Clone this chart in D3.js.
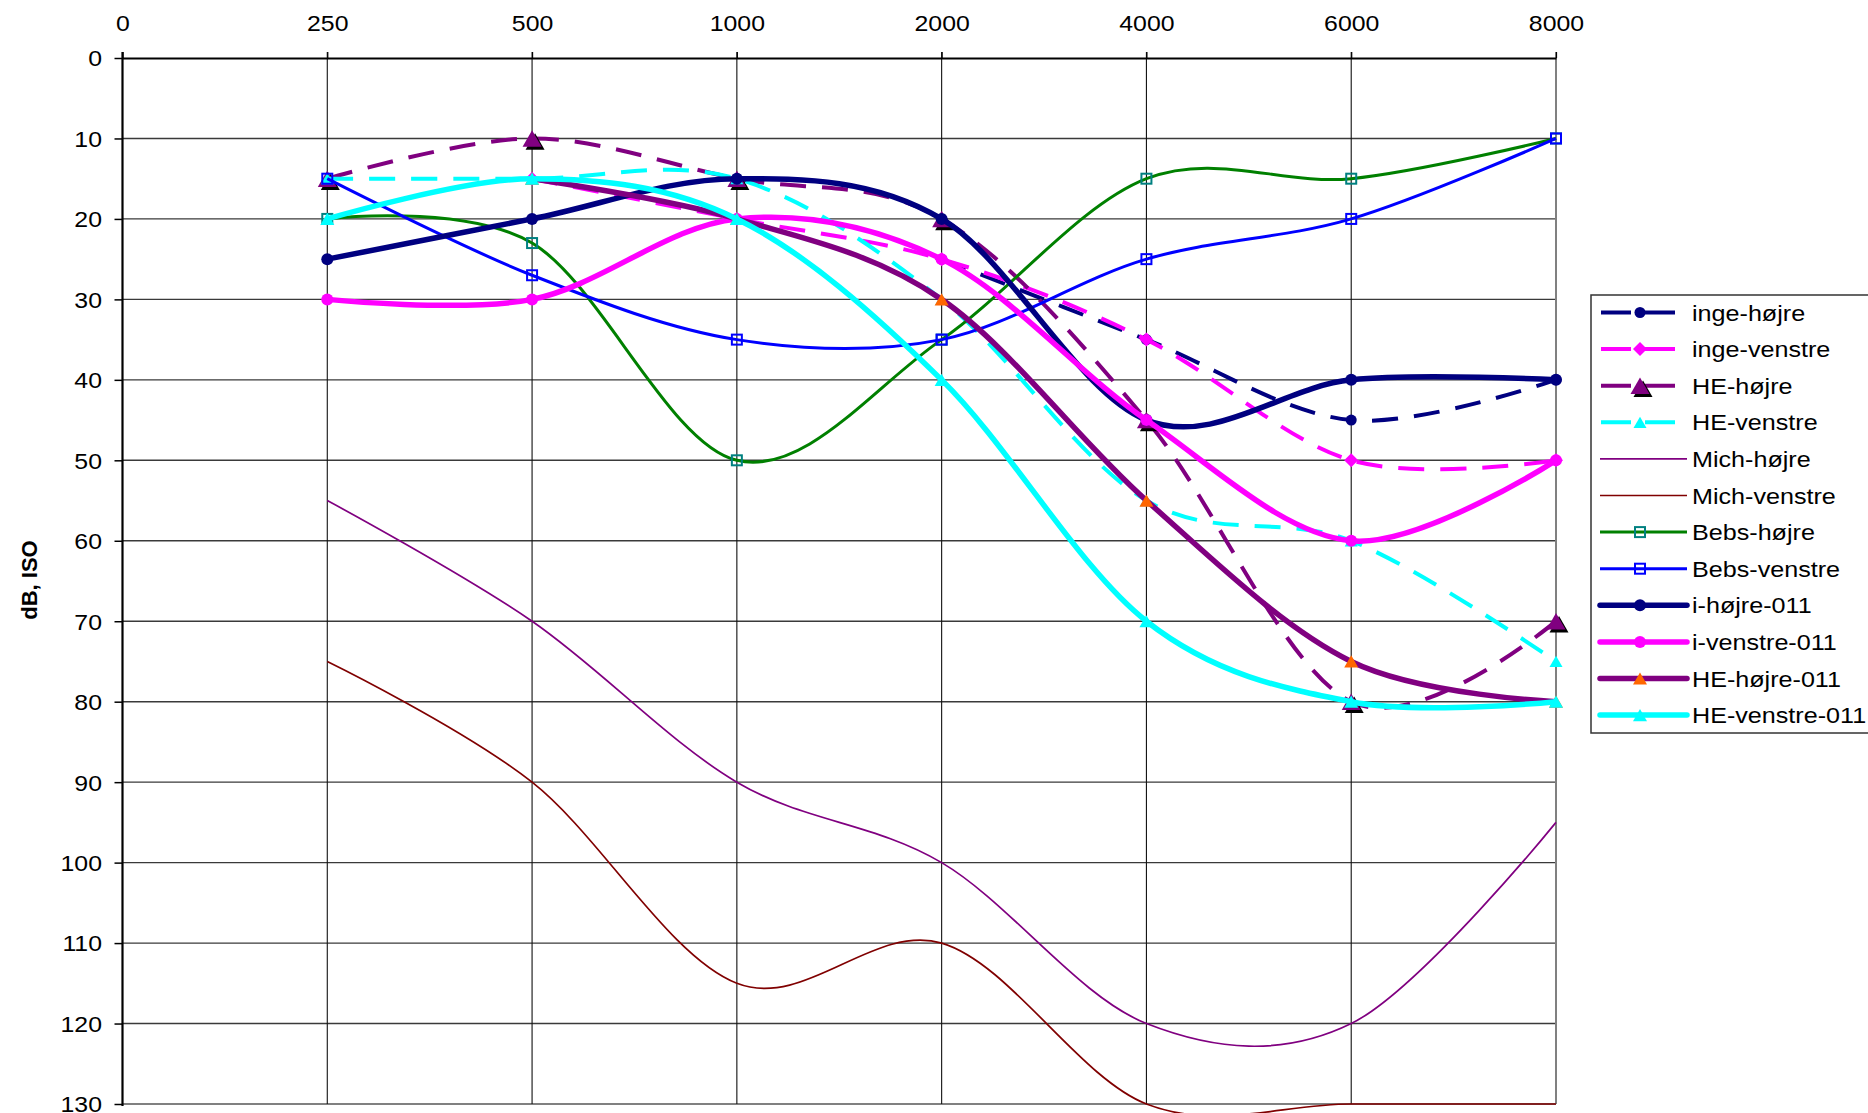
<!DOCTYPE html>
<html>
<head>
<meta charset="utf-8">
<script src="https://cdn.jsdelivr.net/npm/d3@7"></script>
<style>
  html, body { margin: 0; padding: 0; background: #fff; overflow: hidden; }
  svg { display: block; }
  text { font-family: "Liberation Sans", Arial, sans-serif; fill: #000; }
</style>
</head>
<body>
<svg id="chart" width="1868" height="1113"></svg>
<script>
// ---------------- data ----------------
const categories = ["0", "250", "500", "1000", "2000", "4000", "6000", "8000"];
const yTicks = [0, 10, 20, 30, 40, 50, 60, 70, 80, 90, 100, 110, 120, 130];
const yLabel = "dB, ISO";

const ingeHojre     = [null, null, null, null, 25, 35, 45, 40];
const ingeVenstre   = [null, null, 15, 20, 25, 35, 50, 50];
const heHojre       = [null, 15, 10, 15, 20, 45, 80, 70];
const heVenstre     = [null, 15, 15, 15, 30, 55, 60, 75];
const michHojre     = [null, 55, 70, 90, 100, 120, 120, 95];
const michVenstre   = [null, 75, 90, 115, 110, 130, 130, 130];
const bebsHojre     = [null, 20, 23, 50, 35, 15, 15, 10];
const bebsVenstre   = [null, 15, 27, 35, 35, 25, 20, 10];
const iHojre011     = [null, 25, 20, 15, 20, 45, 40, 40];
const iVenstre011   = [null, 30, 30, 20, 25, 45, 60, 50];
const heHojre011    = [null, null, 15, 20, 30, 55, 75, 80];
const heVenstre011  = [null, 20, 15, 20, 40, 70, 80, 80];

const seriesNames = ["inge-højre", "inge-venstre", "HE-højre", "HE-venstre", "Mich-højre", "Mich-venstre",
  "Bebs-højre", "Bebs-venstre", "i-højre-011", "i-venstre-011", "HE-højre-011", "HE-venstre-011"];
const seriesValues = [ingeHojre, ingeVenstre, heHojre, heVenstre, michHojre, michVenstre,
  bebsHojre, bebsVenstre, iHojre011, iVenstre011, heHojre011, heVenstre011];

// ---------------- styles ----------------
const DASH = "26,16";
const styles = [
  {color: "#000080", width: 4,   dash: DASH, marker: "circle",  mfill: "#000080", mstroke: null,      msize: 5.5},
  {color: "#FF00FF", width: 4,   dash: DASH, marker: "diamond", mfill: "#FF00FF", mstroke: null,      msize: 7},
  {color: "#800080", width: 4,   dash: DASH, marker: "bigtri",  mfill: "#800080", mstroke: null,      msize: 19},
  {color: "#00FFFF", width: 4,   dash: DASH, marker: "tri",     mfill: "#00FFFF", mstroke: null,      msize: 13},
  {color: "#800080", width: 1.7, dash: null, marker: null},
  {color: "#800000", width: 1.7, dash: null, marker: null},
  {color: "#008000", width: 3,   dash: null, marker: "square",  mfill: "none",    mstroke: "#008080", msize: 10},
  {color: "#0000FF", width: 3,   dash: null, marker: "square",  mfill: "none",    mstroke: "#0000FF", msize: 10},
  {color: "#000080", width: 5.5, dash: null, marker: "circle",  mfill: "#000080", mstroke: null,      msize: 6},
  {color: "#FF00FF", width: 5.5, dash: null, marker: "circle",  mfill: "#FF00FF", mstroke: null,      msize: 6},
  {color: "#800080", width: 5.5, dash: null, marker: "tri",     mfill: "#FF6600", mstroke: null,      msize: 14},
  {color: "#00FFFF", width: 5.5, dash: null, marker: "tri",     mfill: "#00FFFF", mstroke: null,      msize: 14}
];

const series = seriesNames.map((n, i) => ({
  name: n,
  points: categories.map((c, j) => ({cat: c, v: seriesValues[i][j]})),
  style: styles[i]
}));

// ---------------- layout ----------------
const svg = d3.select("#chart");
const plot = {left: 122.5, right: 1556, top: 58, bottom: 1104};
const TX = 1.13; // horizontal text stretch of the original

const x = d3.scalePoint().domain(categories).range([plot.left, plot.right]);
const y = d3.scaleLinear().domain([0, 130]).range([plot.top, plot.bottom]);

// gridlines
svg.append("g").selectAll("line").data(yTicks.slice(1)).join("line")
  .attr("x1", plot.left).attr("x2", plot.right)
  .attr("y1", d => y(d)).attr("y2", d => y(d))
  .attr("stroke", d => d === 130 ? "#808080" : "#3a3a3a").attr("stroke-width", d => d === 130 ? 2 : 1.4);
svg.append("g").selectAll("line").data(categories.slice(1)).join("line")
  .attr("x1", d => x(d)).attr("x2", d => x(d))
  .attr("y1", plot.top - 6).attr("y2", plot.bottom)
  .attr("stroke", d => d === "8000" ? "#808080" : "#111").attr("stroke-width", d => d === "8000" ? 2 : 1.1);

// top axis
const gx = svg.append("g").attr("transform", `translate(0,${plot.top})`)
  .call(d3.axisTop(x).tickSize(6).tickSizeOuter(0));
gx.select(".domain").attr("stroke", "#000").attr("stroke-width", 2);
gx.selectAll(".tick line").attr("stroke", "#000").attr("stroke-width", 1.2);
gx.selectAll(".tick text")
  .attr("y", -27).attr("dy", 0)
  .attr("font-size", 22).attr("font-family", "Liberation Sans, Arial, sans-serif")
  .attr("transform", `scale(${TX},1)`);

// left axis
const gy = svg.append("g").attr("transform", `translate(${plot.left},0)`)
  .call(d3.axisLeft(y).tickValues(yTicks).tickSize(8).tickSizeOuter(0));
gy.select(".domain").attr("stroke", "#000").attr("stroke-width", 2.2)
  .attr("d", `M0,${plot.top - 6}V${plot.bottom + 2}`);
gy.selectAll(".tick line").attr("stroke", "#000").attr("stroke-width", 1.5);
gy.selectAll(".tick text")
  .attr("x", -20.5 / TX).attr("dy", "0.36em")
  .attr("font-size", 22).attr("font-family", "Liberation Sans, Arial, sans-serif")
  .attr("transform", `scale(${TX},1)`);

// y label
svg.append("text")
  .attr("transform", `translate(37,580) rotate(-90)`)
  .attr("text-anchor", "middle").attr("font-weight", "bold").attr("font-size", 22)
  .text(yLabel);

// ---------------- series ----------------
const line = d3.line()
  .defined(d => d.v !== null)
  .x(d => x(d.cat)).y(d => y(d.v))
  .curve(d3.curveCardinal.tension(0));

function drawMarker(g, st, px, py) {
  if (!st.marker) return;
  const s = st.msize;
  if (st.marker === "circle") {
    g.append("circle").attr("cx", px).attr("cy", py).attr("r", s).attr("fill", st.mfill);
  } else if (st.marker === "diamond") {
    g.append("path").attr("d", `M${px},${py - s}L${px + s},${py}L${px},${py + s}L${px - s},${py}Z`).attr("fill", st.mfill);
  } else if (st.marker === "square") {
    g.append("rect").attr("x", px - s / 2).attr("y", py - s / 2).attr("width", s).attr("height", s)
      .attr("fill", "#fff").attr("fill-opacity", 0).attr("stroke", st.mstroke).attr("stroke-width", 2);
  } else if (st.marker === "tri" || st.marker === "bigtri") {
    const h = s * 0.87;
    const tri = (ox, oy) => `M${px + ox},${py + oy - h / 2}L${px + ox + s / 2},${py + oy + h / 2}L${px + ox - s / 2},${py + oy + h / 2}Z`;
    if (st.marker === "bigtri") g.append("path").attr("d", tri(3, 3)).attr("fill", "#000");
    g.append("path").attr("d", tri(0, 0)).attr("fill", st.mfill);
  }
}

const gs = svg.append("g");
series.forEach(s => {
  const g = gs.append("g");
  g.append("path").datum(s.points).attr("d", line)
    .attr("fill", "none").attr("stroke", s.style.color).attr("stroke-width", s.style.width)
    .attr("stroke-dasharray", s.style.dash).attr("stroke-linejoin", "round");
  s.points.filter(p => p.v !== null).forEach(p => drawMarker(g, s.style, x(p.cat), y(p.v)));
});

// ---------------- legend ----------------
const lg = svg.append("g");
const legTop = 295, legRow = 36.6, legFirst = 312.5;
lg.append("rect").attr("x", 1591).attr("y", legTop).attr("width", 320).attr("height", 438)
  .attr("fill", "#fff").attr("stroke", "#333").attr("stroke-width", 1.5);
series.forEach((s, i) => {
  const cy = legFirst + i * legRow;
  const st = s.style;
  const g = lg.append("g");
  if (st.dash) {
    g.append("line").attr("x1", 1601).attr("x2", 1675).attr("y1", cy).attr("y2", cy)
      .attr("stroke", st.color).attr("stroke-width", st.width).attr("stroke-dasharray", "30,14");
  } else {
    g.append("line").attr("x1", 1600).attr("x2", 1687).attr("y1", cy).attr("y2", cy)
      .attr("stroke", st.color).attr("stroke-width", st.width).attr("stroke-linecap", st.width > 5 ? "round" : "butt");
  }
  drawMarker(g, st, 1640, cy);
  g.append("text").attr("transform", `translate(1692,${cy + 8}) scale(1.17,1)`)
    .attr("font-size", 21.5).text(s.name);
});
</script>
</body>
</html>
